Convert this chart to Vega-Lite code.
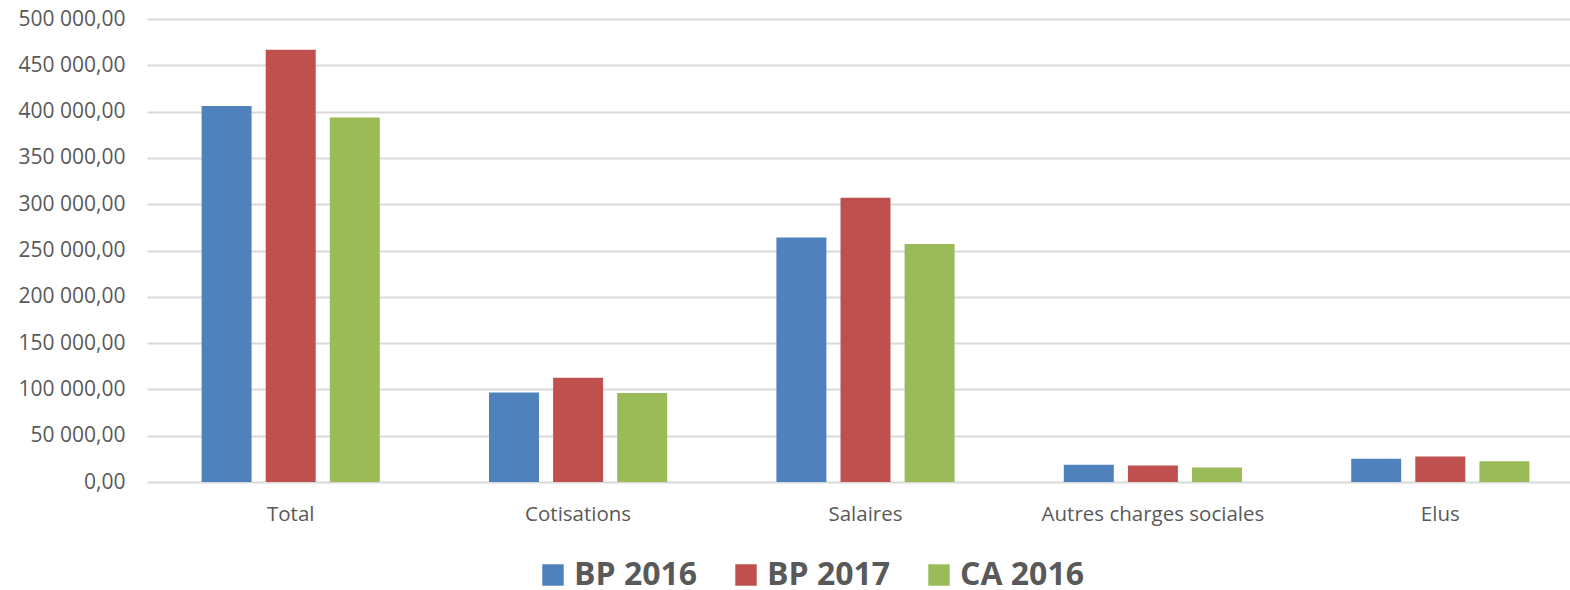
{
  "$schema": "https://vega.github.io/schema/vega-lite/v6.json",
  "width": 1437,
  "height": 463,
  "padding": {"left": 18, "top": 8, "right": 0, "bottom": 0},
  "autosize": {"type": "pad"},
  "background": "white",
  "config": {
    "locale": {"number": {"decimal": ",", "thousands": " ", "grouping": [3], "currency": ["", " €"]}},
    "view": {"stroke": null},
    "font": "Open Sans"
  },
  "data": {
    "values": [
      {"cat": "Total", "serie": "BP 2016", "v": 406000},
      {"cat": "Total", "serie": "BP 2017", "v": 466800},
      {"cat": "Total", "serie": "CA 2016", "v": 393700},
      {"cat": "Cotisations", "serie": "BP 2016", "v": 96700},
      {"cat": "Cotisations", "serie": "BP 2017", "v": 112500},
      {"cat": "Cotisations", "serie": "CA 2016", "v": 96000},
      {"cat": "Salaires", "serie": "BP 2016", "v": 264000},
      {"cat": "Salaires", "serie": "BP 2017", "v": 306900},
      {"cat": "Salaires", "serie": "CA 2016", "v": 256900},
      {"cat": "Autres charges sociales", "serie": "BP 2016", "v": 18600},
      {"cat": "Autres charges sociales", "serie": "BP 2017", "v": 17800},
      {"cat": "Autres charges sociales", "serie": "CA 2016", "v": 15700},
      {"cat": "Elus", "serie": "BP 2016", "v": 25000},
      {"cat": "Elus", "serie": "BP 2017", "v": 27500},
      {"cat": "Elus", "serie": "CA 2016", "v": 22500}
    ]
  },
  "mark": {"type": "bar"},
  "encoding": {
    "x": {
      "field": "cat", "type": "nominal", "sort": null,
      "scale": {"paddingInner": 0.38, "paddingOuter": 0.19},
      "axis": {"title": null, "labelAngle": 0, "labelFontSize": 20.5, "labelColor": "#595959", "ticks": false, "domain": false, "labelPadding": 22, "labelFont": "Open Sans", "labelLimit": 400}
    },
    "xOffset": {"field": "serie", "type": "nominal", "scale": {"paddingInner": 0.22, "paddingOuter": 0}},
    "y": {
      "field": "v", "type": "quantitative",
      "scale": {"domain": [0, 500000], "nice": false},
      "axis": {"title": null, "format": ",.2f", "values": [0,50000,100000,150000,200000,250000,300000,350000,400000,450000,500000], "labelOverlap": false, "labelFontSize": 21, "labelColor": "#595959", "ticks": false, "domain": false, "labelPadding": 22, "gridColor": "#d9d9d9", "gridWidth": 2, "labelFont": "Open Sans"}
    },
    "color": {
      "field": "serie", "type": "nominal",
      "scale": {"domain": ["BP 2016", "BP 2017", "CA 2016"], "range": ["#4f81bd", "#c0504d", "#9bbb59"]},
      "legend": {"title": null, "orient": "none", "legendX": 390, "legendY": 540, "direction": "horizontal", "symbolType": "square", "symbolSize": 460, "symbolStrokeWidth": 0, "labelFontSize": 32, "labelFontWeight": "bold", "labelColor": "#595959", "labelFont": "Open Sans", "columnPadding": 32, "labelOffset": 5}
    }
  }
}
